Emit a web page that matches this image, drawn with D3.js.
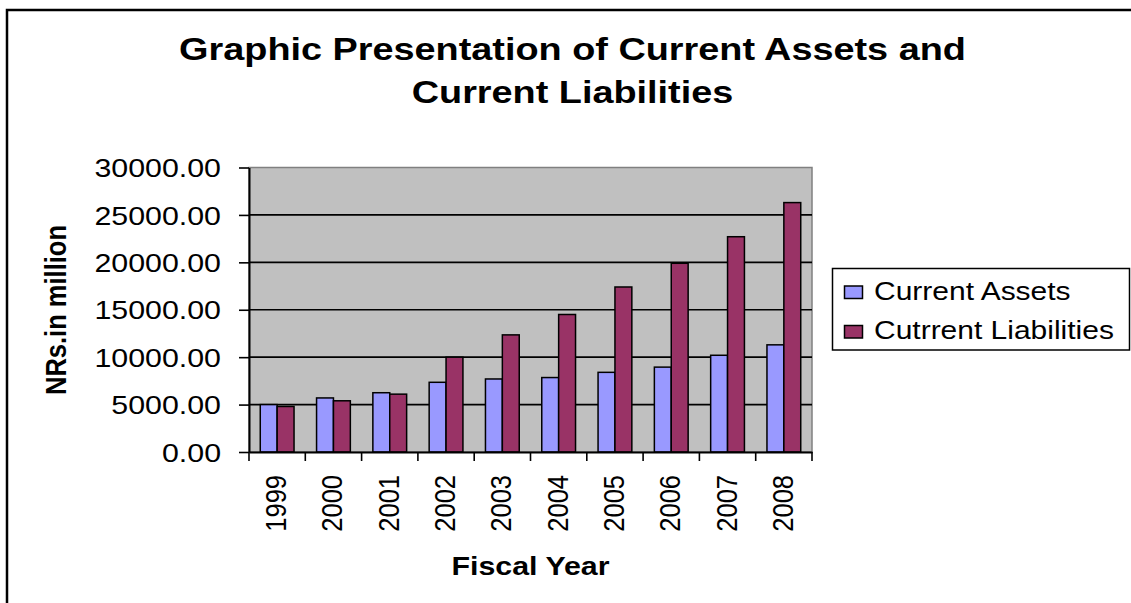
<!DOCTYPE html>
<html>
<head>
<meta charset="utf-8">
<script src="https://cdn.jsdelivr.net/npm/d3@7/dist/d3.min.js"></script>
<style>
  html, body { margin: 0; padding: 0; background: #fff; }
  svg { display: block; }
  text { font-family: "Liberation Sans", Arial, sans-serif; fill: #000; }
</style>
</head>
<body>
<svg id="chart" width="1131" height="603"></svg>
<script>
// ---- data ----
const years = ["1999","2000","2001","2002","2003","2004","2005","2006","2007","2008"];
const seriesNames = ["Current Assets", "Cutrrent Liabilities"];
const currentAssets = [5000, 5700, 6250, 7350, 7700, 7850, 8400, 8950, 10200, 11300];
const currentLiabilities = [4800, 5400, 6100, 10000, 12350, 14500, 17400, 19900, 22700, 26300];
const yTicks = [0, 5000, 10000, 15000, 20000, 25000, 30000];
const titleLines = ["Graphic Presentation of Current Assets and", "Current Liabilities"];
const xTitle = "Fiscal Year";
const yTitle = "NRs.in million";
const colors = ["#9999FF", "#993366"];

// ---- layout ----
const SX = 1.19; // horizontal stretch of the original picture
const plot = { left: 249, right: 812, top: 167.5, bottom: 452 };
const svg = d3.select("#chart");

const y = d3.scaleLinear().domain([0, 30000]).range([plot.bottom, plot.top]);
const x0 = d3.scaleBand().domain(years).range([plot.left, plot.right]).padding(0);
const bw = x0.bandwidth();
const groupW = bw * 0.6;
const x1 = d3.scaleBand().domain(seriesNames).range([0, groupW]).padding(0);

// outer border
svg.append("path")
  .attr("d", `M7,${603 + 5} L7,10 L${1131 + 5},10`)
  .attr("fill", "none").attr("stroke", "#000").attr("stroke-width", 2.5);

// title
titleLines.forEach((t, i) => {
  svg.append("text")
    .attr("transform", `translate(572.5,${60 + i * 43}) scale(${SX},1)`)
    .attr("text-anchor", "middle")
    .attr("font-weight", "bold")
    .attr("font-size", 31.8)
    .text(t);
});

// plot background
svg.append("rect")
  .attr("x", plot.left).attr("y", plot.top)
  .attr("width", plot.right - plot.left).attr("height", plot.bottom - plot.top)
  .attr("fill", "#C0C0C0").attr("stroke", "#808080").attr("stroke-width", 1.5);

// gridlines
svg.append("g").selectAll("line")
  .data(yTicks.filter(d => d > 0 && d < 30000))
  .join("line")
  .attr("x1", plot.left).attr("x2", plot.right)
  .attr("y1", d => y(d)).attr("y2", d => y(d))
  .attr("stroke", "#000").attr("stroke-width", 1.6);

// bars
const data = years.map((yr, i) => ({ year: yr, values: [currentAssets[i], currentLiabilities[i]] }));
const groups = svg.append("g").selectAll("g")
  .data(data).join("g")
  .attr("transform", d => `translate(${x0(d.year) + (bw - groupW) / 2},0)`);
groups.selectAll("rect")
  .data(d => d.values.map((v, j) => ({ name: seriesNames[j], v, j })))
  .join("rect")
  .attr("x", d => x1(d.name))
  .attr("width", x1.bandwidth())
  .attr("y", d => y(d.v))
  .attr("height", d => y(0) - y(d.v))
  .attr("fill", d => colors[d.j])
  .attr("stroke", "#000").attr("stroke-width", 1.5);

// y axis
const yAxis = svg.append("g")
  .attr("transform", `translate(${plot.left},0)`)
  .call(d3.axisLeft(y).tickValues(yTicks).tickSize(10).tickSizeOuter(0).tickFormat(d => d.toFixed(2)));
yAxis.select(".domain").attr("stroke", "#000").attr("stroke-width", 2);
yAxis.selectAll(".tick line").attr("stroke", "#000").attr("stroke-width", 1.6);
yAxis.selectAll(".tick text")
  .attr("x", null).attr("dy", "0.36em")
  .attr("transform", `translate(-28,0) scale(${SX},1)`)
  .attr("font-size", 25.5)
  .attr("font-family", "Liberation Sans, Arial, sans-serif")
  .attr("text-anchor", "end")
  .attr("fill", "#000");

// x axis line + boundary ticks
const xAxis = svg.append("g")
  .attr("transform", `translate(0,${plot.bottom})`)
  .call(d3.axisBottom(x0).tickSize(0).tickFormat(""));
xAxis.select(".domain").attr("stroke", "#000").attr("stroke-width", 2);
const bounds = years.map(c => x0(c)).concat([x0.range()[1]]);
xAxis.append("g").selectAll("line")
  .data(bounds).join("line")
  .attr("x1", d => d).attr("x2", d => d)
  .attr("y1", 0).attr("y2", 9)
  .attr("stroke", "#000").attr("stroke-width", 1.6);

// x tick labels (rotated)
svg.append("g").selectAll("text")
  .data(years).join("text")
  .attr("transform", d => `translate(${x0(d) + bw / 2 + 9},475) scale(${SX},1) rotate(-90)`)
  .attr("text-anchor", "end")
  .attr("font-size", 25.5)
  .text(d => d);

// axis titles
svg.append("text")
  .attr("transform", `translate(${(plot.left + plot.right) / 2},575) scale(${SX},1)`)
  .attr("text-anchor", "middle")
  .attr("font-weight", "bold")
  .attr("font-size", 25.5)
  .text(xTitle);

svg.append("text")
  .attr("transform", `translate(66,310) scale(${SX},1) rotate(-90)`)
  .attr("text-anchor", "middle")
  .attr("font-weight", "bold")
  .attr("font-size", 25.5)
  .text(yTitle);

// legend
const legend = svg.append("g");
legend.append("rect")
  .attr("x", 832.5).attr("y", 268.5).attr("width", 297).attr("height", 81.5)
  .attr("fill", "#fff").attr("stroke", "#000").attr("stroke-width", 1.5);
seriesNames.forEach((name, i) => {
  const by = 299.5 + i * 39.5;
  legend.append("rect")
    .attr("x", 844.5).attr("y", by - 13.5).attr("width", 18).attr("height", 12.5)
    .attr("fill", colors[i]).attr("stroke", "#000").attr("stroke-width", 1.5);
  legend.append("text")
    .attr("transform", `translate(874,${by}) scale(${SX},1)`)
    .attr("font-size", 25.2)
    .text(name);
});
</script>
</body>
</html>
